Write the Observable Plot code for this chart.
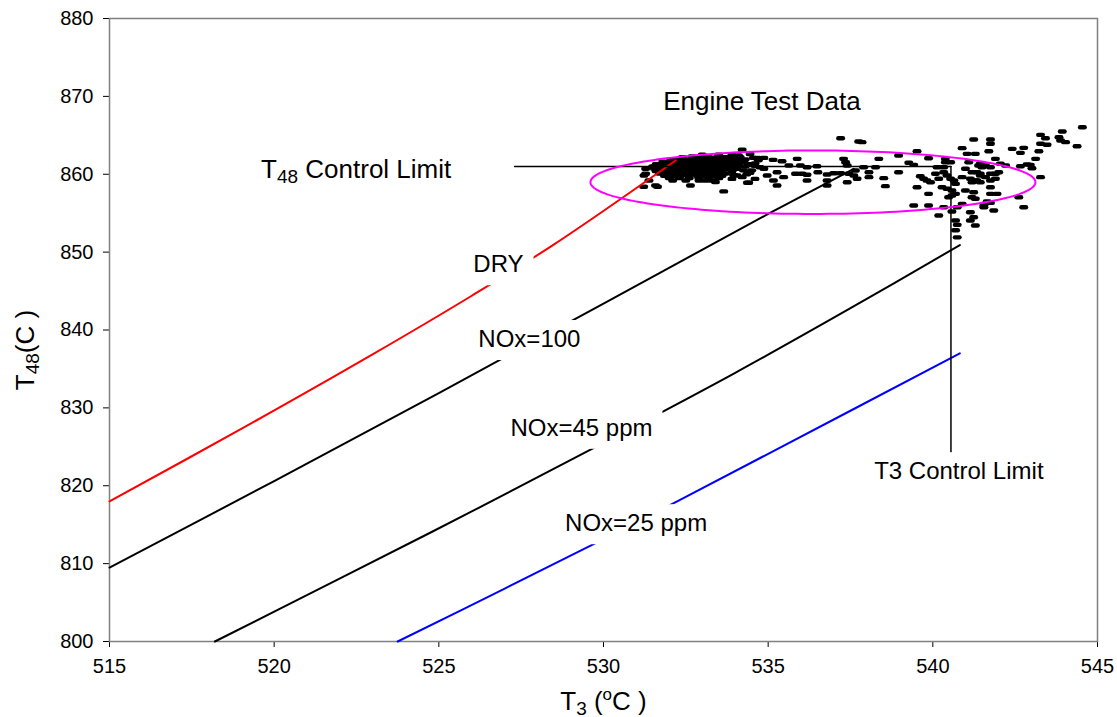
<!DOCTYPE html>
<html><head><meta charset="utf-8">
<script src="https://cdn.jsdelivr.net/npm/d3@7"></script>
<script src="https://cdn.jsdelivr.net/npm/@observablehq/plot@0.6"></script>
<style>body{margin:0;background:#fff;}</style>
</head><body><div id="chart"></div>
<script>
const xTicks = [515, 520, 525, 530, 535, 540, 545];
const yTicks = [800, 810, 820, 830, 840, 850, 860, 870, 880];

// Curves [T3, T48]
const dryLine = [[515, 818.0], [519, 827.3], [523, 836.9], [526, 844.4], [528.5, 851.0], [532.19, 861.77]];
const nox100Line = [[515, 809.5], [520, 820.6], [525, 831.9], [530, 843.4], [535, 854.9], [537.6, 860.7]];
const nox45Line = [[518.2, 800], [522, 808.1], [526, 816.7], [530, 825.5], [534, 834.5], [537.5, 842.8], [540.82, 850.9]];
const nox25Line = [[523.75, 800], [527, 806.8], [531, 815.3], [535, 824.1], [540.82, 837.0]];
const t48Limit = [[527.3, 861.0], [540.55, 861.0]];
const t3Limit = [[540.55, 861.0], [540.55, 824.2]];

// Ellipse around test data: centre and radii (T3, T48)
const ellipseCentre = [536.36, 858.98];
const ellipseRadii = [6.756, 4.077];

const labels = [
  {text: "Engine Test Data", x: 534.81, y: 869.3},
  {text: "T_{48} Control Limit", x: 522.49, y: 860.64},
  {text: "DRY", x: 526.81, y: 848.41},
  {text: "NOx=100", x: 527.75, y: 838.8},
  {text: "NOx=45 ppm", x: 529.33, y: 827.4},
  {text: "NOx=25 ppm", x: 530.99, y: 815.15},
  {text: "T3 Control Limit", x: 540.79, y: 821.83}
];
const largeLabels = ["Engine Test Data", "T_{48} Control Limit"];

// Engine test data [T3, T48]
const testPoints = [
  // dense core
  [533.0,862.5],[533.5,862.5],[533.9,862.5],[534.1,862.4],
  [532.4,862.2],[532.7,862.2],[532.95,862.2],[533.2,862.2],[533.45,862.2],[533.7,862.2],[533.95,862.2],[534.15,862.2],
  [532.05,861.9],[532.3,861.9],[532.55,861.9],[532.8,861.9],[533.05,861.9],[533.3,861.9],[533.55,861.9],[533.8,861.9],[534.05,861.9],[534.3,861.9],
  [531.8,861.6],[532.0,861.6],[532.25,861.6],[532.5,861.6],[532.75,861.6],[533.0,861.6],[533.25,861.6],[533.5,861.6],[533.75,861.6],[534.0,861.6],[534.25,861.6],
  [531.6,861.3],[531.85,861.3],[532.1,861.3],[532.35,861.3],[532.6,861.3],[532.85,861.3],[533.1,861.3],[533.35,861.3],[533.6,861.3],[533.85,861.3],[534.1,861.3],[534.4,861.3],
  [531.5,861.0],[531.75,861.0],[532.0,861.0],[532.25,861.0],[532.5,861.0],[532.75,861.0],[533.0,861.0],[533.25,861.0],[533.5,861.0],[533.75,861.0],[534.0,861.0],[534.3,861.0],
  [531.55,860.7],[531.8,860.7],[532.05,860.7],[532.3,860.7],[532.55,860.7],[532.8,860.7],[533.05,860.7],[533.3,860.7],[533.55,860.7],[533.8,860.7],[534.05,860.7],
  [531.6,860.4],[531.85,860.4],[532.1,860.4],[532.35,860.4],[532.6,860.4],[532.85,860.4],[533.1,860.4],[533.35,860.4],[533.6,860.4],[533.9,860.4],
  [531.7,860.1],[531.95,860.1],[532.2,860.1],[532.45,860.1],[532.7,860.1],[532.95,860.1],[533.2,860.1],[533.45,860.1],[533.7,860.1],
  [531.85,859.8],[532.1,859.8],[532.35,859.8],[532.6,859.8],[532.85,859.8],[533.1,859.8],[533.35,859.8],[533.6,859.8],
  [532.0,859.5],[532.3,859.5],[532.6,859.5],[532.9,859.5],[533.2,859.5],[533.5,859.5],
  [532.1,859.2],[532.5,859.2],[532.9,859.2],[533.3,859.2],
  [534.55,862.1],[534.7,861.8],[534.6,861.1],[534.75,860.9],[534.45,860.2],[534.25,860.5],[533.95,859.9],[534.6,859.4],
  // fringe of core
  [531.28,860.06],[531.22,858.4],[531.64,858.4],[531.23,859.84],[531.38,859.2],[531.58,858.56],[531.48,860.9],[531.28,860.7],
  [532.64,858.56],[533.65,857.8],[532.69,862.3],[533.1,859.2],[533.4,859.0],[534.37,858.9],[535.16,859.2],
  [534.45,862.6],[534.6,861.4],[534.5,860.5],[534.35,860.0],[533.9,859.4],
  // middle spread
  [537.20,864.63],[534.21,863.14],[537.75,864.20],[534.67,862.10],[534.87,862.10],[535.15,861.85],[535.42,861.67],[535.88,861.98],
  [535.27,860.26],[534.87,860.70],[534.97,859.84],[535.47,859.63],[535.27,858.56],[534.41,858.90],[535.63,861.12],[535.98,861.12],
  [536.18,860.90],[535.83,860.06],[536.03,860.06],[536.18,859.93],[536.18,859.20],[536.48,861.03],[536.51,860.26],[536.79,859.97],
  [536.99,860.13],[537.20,860.13],[536.79,859.20],[536.79,858.56],[537.29,861.98],[537.35,861.55],[537.40,861.12],[537.45,860.06],
  [537.60,859.84],[537.70,859.42],[537.40,858.98],[537.65,860.48],[534.06,859.84],[534.21,859.63],
  [537.85,864.12],[538.36,861.98],[538.96,862.41],[539.52,862.96],[539.27,861.47],[539.42,861.21],[539.87,862.06],[540.38,861.98],
  [540.89,863.35],[541.24,864.46],[541.04,862.62],[541.29,862.62],[537.90,860.90],[538.06,860.26],[538.06,859.63],[538.26,860.90],
  [538.51,859.50],[538.56,858.47],[538.96,860.26],[539.62,859.75],[539.72,859.42],[539.82,859.20],[539.93,858.98],[539.52,858.34],
  // right cluster
  [540.08,860.06],[540.13,860.90],[540.33,860.90],[540.38,861.55],[540.54,861.55],[540.33,860.26],[540.43,859.84],[540.54,859.42],
  [540.64,859.20],[540.69,858.77],[540.18,859.42],[540.28,858.34],[540.43,858.13],[540.58,857.91],[540.69,857.48],[540.58,857.27],
  [540.48,857.05],[539.87,857.48],[539.42,855.99],[539.87,855.99],[540.33,855.77],[540.18,854.70],[540.58,855.22],[540.74,855.77],
  [540.69,854.06],[540.74,853.50],[540.99,860.70],[541.19,860.26],[541.34,860.26],[541.44,860.06],[540.89,859.63],[541.14,859.42],
  [541.19,858.98],[541.34,859.20],[540.99,857.91],[541.24,857.69],[541.19,857.05],[540.89,856.20],[541.14,855.13],[541.24,854.48],
  [541.14,854.06],[541.55,855.99],[541.09,861.55],[541.39,861.12],[541.49,860.90],[541.29,853.42],[540.74,851.9],[540.69,852.8],
  [544.54,866.04],[543.93,865.49],[543.27,865.06],[543.42,864.63],[543.83,864.76],[543.88,864.33],[544.03,864.12],[543.27,863.91],
  [543.47,863.78],[544.38,863.60],[542.41,863.26],[542.76,863.39],[542.66,862.75],[543.22,862.96],[541.75,864.46],[541.75,863.91],
  [541.70,862.96],[543.12,861.98],[542.86,861.25],[542.96,861.21],[543.01,860.78],[542.66,861.03],[541.90,861.98],[542.05,861.34],
  [542.21,861.12],[541.75,860.90],[541.60,861.12],[541.44,861.34],[541.75,860.06],[541.90,860.06],[542.00,860.26],[541.44,859.84],
  [541.60,859.63],[541.29,859.20],[541.75,859.20],[541.90,859.42],[541.44,858.98],[541.75,858.34],[543.27,859.63],[541.75,857.48],
  [541.95,857.48],[542.61,857.05],[541.65,856.50],[541.75,856.33],[541.55,855.77],[542.76,855.77],[541.85,855.34],[541.29,856.85]
];

const ellipsePts = d3.range(0, 361, 2).map(a => [
  ellipseCentre[0] + ellipseRadii[0] * Math.cos(a * Math.PI / 180),
  ellipseCentre[1] + ellipseRadii[1] * Math.sin(a * Math.PI / 180)
]);

const dash = {
  draw(ctx) {
    ctx.moveTo(-2.3, -2.2); ctx.lineTo(2.3, -2.2);
    ctx.arc(2.3, 0, 2.2, -Math.PI / 2, Math.PI / 2);
    ctx.lineTo(-2.3, 2.2);
    ctx.arc(-2.3, 0, 2.2, Math.PI / 2, 3 * Math.PI / 2);
    ctx.closePath();
  }
};

const X = d => d[0], Y = d => d[1];
const FONT = "'Liberation Sans', Arial, Helvetica, sans-serif";

const chart = Plot.plot({
  width: 1117, height: 717,
  marginLeft: 109, marginRight: 20, marginTop: 18, marginBottom: 76,
  style: {fontFamily: FONT, fontSize: "20px", color: "black", background: "white", overflow: "visible"},
  x: {domain: [515, 545], ticks: xTicks, tickSize: 6, tickPadding: 11, line: true, label: null},
  y: {domain: [800, 880], ticks: yTicks, tickSize: 6, tickPadding: 10, line: true, label: null},
  marks: [
    Plot.frame({stroke: "#808080", strokeWidth: 1.5}),
    Plot.dot(testPoints, {x: X, y: Y, symbol: dash, fill: "black", stroke: "none"}),
    Plot.line(dryLine, {x: X, y: Y, stroke: "#ff0000", strokeWidth: 2, curve: "catmull-rom"}),
    Plot.line(nox100Line, {x: X, y: Y, stroke: "black", strokeWidth: 2, curve: "catmull-rom"}),
    Plot.line(nox45Line, {x: X, y: Y, stroke: "black", strokeWidth: 2, curve: "catmull-rom"}),
    Plot.line(nox25Line, {x: X, y: Y, stroke: "#0000ff", strokeWidth: 2, curve: "catmull-rom"}),
    Plot.line(t48Limit, {x: X, y: Y, stroke: "black", strokeWidth: 1.5}),
    Plot.line(t3Limit, {x: X, y: Y, stroke: "black", strokeWidth: 1.5}),
    Plot.line(ellipsePts, {x: X, y: Y, stroke: "#ff00ff", strokeWidth: 2}),
    Plot.text(labels, {x: "x", y: "y", text: "text", textAnchor: "middle", lineAnchor: "middle",
      fontSize: d => largeLabels.includes(d.text) ? 26 : 24, fill: "black"}),
    Plot.text(["T_{3} (^{o}C )"], {frameAnchor: "bottom", dy: 60, textAnchor: "middle", lineAnchor: "middle", fontSize: 26, fill: "black"}),
    Plot.text(["T_{48}(C )"], {frameAnchor: "left", dx: -84, dy: 20, rotate: -90, textAnchor: "middle", lineAnchor: "middle", fontSize: 26, fill: "black"})
  ]
});

document.getElementById("chart").append(chart);

const NS = "http://www.w3.org/2000/svg";
const labelSet = new Set(labels.map(d => d.text));
const labelEls = [...chart.querySelectorAll("text")].filter(t => labelSet.has(t.textContent));

function richify(t) {
  const s = t.textContent;
  if (!/[_^]\{/.test(s)) return;
  while (t.firstChild) t.removeChild(t.firstChild);
  const re = /([_^])\{([^}]*)\}/g;
  let last = 0, m, shift = 0;
  const add = (str, kind) => {
    const ts = document.createElementNS(NS, "tspan");
    let target = 0;
    if (kind === "_") { ts.setAttribute("font-size", "19"); target = 5; }
    else if (kind === "^") { ts.setAttribute("font-size", "17"); target = -10; }
    if (target !== shift) { ts.setAttribute("dy", target - shift); shift = target; }
    ts.textContent = str;
    t.appendChild(ts);
  };
  while ((m = re.exec(s))) {
    if (m.index > last) add(s.slice(last, m.index), "");
    add(m[2], m[1]);
    last = re.lastIndex;
  }
  if (last < s.length) add(s.slice(last), "");
}
chart.querySelectorAll("text").forEach(richify);

labelEls.forEach(t => {
  const b = t.getBBox();
  const r = document.createElementNS(NS, "rect");
  r.setAttribute("x", b.x - 10);
  r.setAttribute("y", b.y - 5);
  r.setAttribute("width", b.width + 20);
  r.setAttribute("height", b.height + 13);
  r.setAttribute("fill", "white");
  const tr = t.getAttribute("transform");
  if (tr) r.setAttribute("transform", tr);
  t.parentNode.insertBefore(r, t);
});
</script>
</body></html>
